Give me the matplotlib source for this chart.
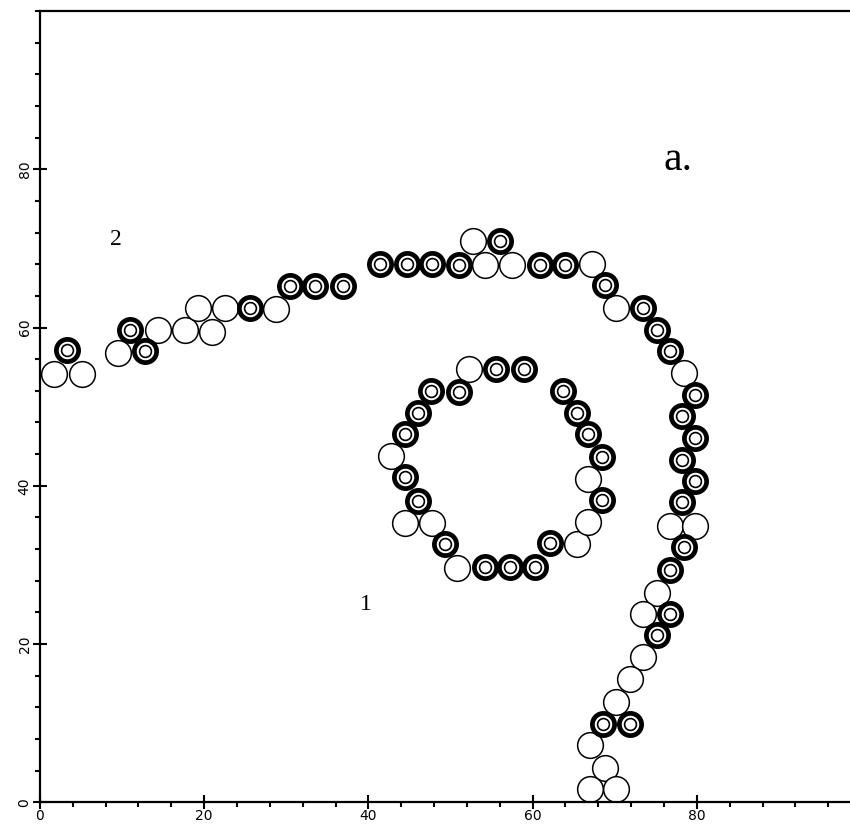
import numpy as np
import matplotlib
matplotlib.use('Agg')
import matplotlib.pyplot as plt
from matplotlib.ticker import MultipleLocator, FixedLocator

## -- open (empty) sites
open_x = [1.7, 5.1, 9.5, 14.4, 17.7, 20.9, 19.3, 22.5, 28.8,
          52.8, 54.2, 57.5, 67.2, 70.2,
          78.4, 76.7, 79.8,
          75.1, 73.5, 73.5, 71.9, 70.2, 67.0, 68.8, 67.0, 70.2,
          52.2, 42.8, 44.5, 47.7, 50.8, 65.4, 66.8, 66.8]
open_y = [54.1, 54.1, 56.8, 59.7, 59.7, 59.5, 62.5, 62.5, 62.3,
          70.9, 67.9, 67.9, 68.1, 62.5,
          54.3, 34.9, 34.9,
          26.5, 23.8, 18.3, 15.6, 12.7, 7.2, 4.3, 1.7, 1.7,
          54.7, 43.8, 35.3, 35.3, 29.6, 32.7, 35.4, 40.9]

## -- occupied sites (ring markers)
ring_x = [3.3, 11.0, 12.8, 25.6, 30.5, 33.5, 36.9,
          41.4, 44.7, 47.7, 51.0, 56.0, 60.9, 64.0, 68.8,
          73.5, 75.1, 76.7, 79.8, 78.2, 79.8, 78.2, 79.8, 78.2,
          78.4, 76.7, 76.7, 75.1, 68.6, 71.9,
          55.6, 58.9, 47.6, 51.0, 46.1, 44.5, 44.5, 46.1, 49.3,
          54.2, 57.3, 60.3, 62.1, 68.4, 68.4, 66.8, 65.4, 63.7]
ring_y = [57.2, 59.7, 57.0, 62.5, 65.2, 65.2, 65.2,
          68.1, 68.1, 68.1, 67.9, 70.9, 67.9, 67.9, 65.4,
          62.5, 59.7, 57.0, 51.5, 48.8, 46.1, 43.3, 40.6, 37.9,
          32.2, 29.3, 23.8, 21.1, 9.9, 9.9,
          54.7, 54.7, 52.0, 51.8, 49.2, 46.5, 41.1, 38.1, 32.6,
          29.7, 29.7, 29.7, 32.8, 38.2, 43.7, 46.5, 49.2, 52.0]

y_ticks = [0, 20, 40, 60, 80]
x_ticks = [0, 20, 40, 60, 80]

fig = plt.figure(figsize=(8.5, 8.27), dpi=100)
ax = fig.add_axes([0.047, 0.030, 0.966, 0.9565])
ax.set_xlim(0, 100)
ax.set_ylim(0, 100)

ax.plot(open_x, open_y, ls='None', marker='o', ms=18.5, mfc='white',
        mec='black', mew=1.1, zorder=2)
ax.plot(ring_x, ring_y, ls='None', marker='o', ms=16.0, mfc='white',
        mec='black', mew=3.4, zorder=3)
ax.plot(ring_x, ring_y, ls='None', marker='o', ms=8.5, mfc='white',
        mec='black', mew=1.2, zorder=4)

ax.text(77.7, 81.2, 'a.', fontsize=30, family='Liberation Serif',
        ha='center', va='center')
ax.text(9.3, 71.1, '2', fontsize=17, family='Liberation Serif',
        ha='center', va='center')
ax.text(39.7, 25.0, '1', fontsize=17, family='Liberation Serif',
        ha='center', va='center')

## -- axes styling
for s in ['left', 'bottom', 'top']:
  ax.spines[s].set_linewidth(1.6)
ax.spines['right'].set_visible(False)

ax.xaxis.set_major_locator(FixedLocator(x_ticks))
ax.yaxis.set_major_locator(FixedLocator(y_ticks))
ax.xaxis.set_minor_locator(MultipleLocator(4))
ax.yaxis.set_minor_locator(MultipleLocator(4))
ax.tick_params(which='major', direction='inout', length=10, width=1.5,
               labelsize=10, pad=0)
ax.tick_params(which='minor', direction='out', length=3.5, width=1.5)
ax.tick_params(axis='y', which='major', pad=1)
for lbl in ax.get_yticklabels():
  lbl.set_rotation(90)
  lbl.set_va('center')

fig.savefig('out.png', dpi=100, facecolor='white')
